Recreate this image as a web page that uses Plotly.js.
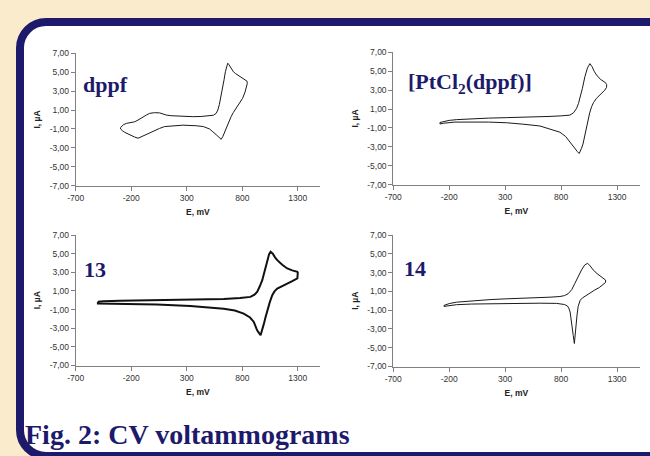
<!DOCTYPE html>
<html>
<head>
<meta charset="utf-8">
<script src="https://cdn.plot.ly/plotly-3.0.1.min.js"></script>
<style>
  html, body { margin: 0; padding: 0; width: 650px; height: 456px; overflow: hidden; background: #FBEBCD; }
  #frame { position: absolute; left: 15.5px; top: 18px; width: 700px; height: 426px; border: 8.5px solid #1E1A6B; border-radius: 30px; background: #ffffff; }
  #chart { position: absolute; left: 0; top: 0; width: 650px; height: 456px; }
</style>
</head>
<body>
<div id="frame"></div>
<div id="chart"></div>
<script>
// ---- Data (E in mV, I in µA) ----
const dppfE = [-296,-270,-243,-200,-168,-130,-94,-60,-34,10,56,90,116,160,206,280,355,430,505,540,565,580,594,610,624,636,648,660,669,680,699,720,740,759,790,815,834,843,
               845,840,825,803,770,744,720,699,684,669,654,639,625,610,598,583,565,535,505,450,385,265,146,100,56,10,-34,-75,-108,-138,-170,-198,-230,-258,-280,-296,-296];
const dppfI = [-0.85,-0.55,-0.41,-0.33,-0.24,0.0,0.29,0.5,0.65,0.72,0.70,0.55,0.47,0.40,0.37,0.32,0.30,0.32,0.37,0.45,0.65,1.0,1.6,2.5,3.3,4.2,5.05,5.7,5.95,5.8,5.4,5.05,4.85,4.7,4.45,4.28,4.17,4.05,
               3.8,3.5,2.9,2.24,1.7,1.18,0.75,0.29,-0.15,-0.59,-1.05,-1.46,-1.8,-2.1,-1.95,-1.75,-1.6,-1.3,-1.0,-0.75,-0.66,-0.6,-0.66,-0.75,-0.94,-1.2,-1.46,-1.68,-1.85,-1.98,-1.85,-1.72,-1.55,-1.36,-1.18,-1.0,-0.85];

const ptE = [-283,-250,-200,-134,14,150,313,458,610,700,800,878,910,938,955,968,990,1012,1035,1057,1075,1095,1116,1150,1175,1195,1206,
             1206,1190,1150,1116,1090,1072,1055,1042,1025,1012,995,982,968,961,945,923,900,878,840,789,700,610,458,313,150,14,-150,-250,-283,-283];
const ptI = [-0.42,-0.3,-0.2,-0.12,0.0,0.04,0.09,0.12,0.16,0.22,0.28,0.36,0.6,1.08,1.6,2.14,3.2,4.42,5.35,5.8,5.5,5.0,4.6,4.15,3.95,3.8,3.6,
             3.3,3.0,2.55,2.14,1.7,1.25,0.6,-0.16,-1.05,-1.92,-2.7,-3.15,-3.55,-3.7,-3.5,-3.15,-2.8,-2.4,-1.9,-1.45,-1.1,-0.79,-0.6,-0.45,-0.38,-0.35,-0.38,-0.5,-0.58,-0.42];

const c13E = [-500,-450,-300,31,332,633,780,874,910,934,958,980,1003,1025,1042,1055,1075,1095,1115,1160,1205,1250,1296,1300,
              1300,1296,1250,1205,1160,1115,1090,1070,1048,1025,1010,995,980,965,950,934,904,870,813,733,633,480,332,31,-300,-450,-500,-500];
const c13I = [-0.15,-0.1,-0.05,0.0,0.05,0.14,0.25,0.36,0.6,0.9,1.5,2.15,3.2,4.3,4.95,5.2,5.0,4.6,4.3,3.8,3.41,3.2,3.05,2.95,
              2.5,2.34,2.05,1.8,1.5,1.26,0.95,0.54,-0.2,-1.08,-1.8,-2.51,-3.2,-3.75,-3.5,-3.23,-2.33,-1.85,-1.43,-1.1,-0.9,-0.72,-0.61,-0.46,-0.42,-0.4,-0.35,-0.15];

const c14E = [-247,-200,-134,0,163,300,461,610,700,789,830,863,895,923,950,982,1010,1036,1060,1086,1120,1161,1190,1197,
              1197,1175,1140,1101,1060,1027,990,970,952,942,934,926,918,908,898,890,880,868,855,830,804,759,610,461,300,163,0,-134,-200,-247,-247];
const c14I = [-0.5,-0.3,-0.15,0.0,0.12,0.2,0.25,0.3,0.38,0.45,0.55,0.75,1.2,1.86,2.55,3.28,3.8,3.99,3.7,3.28,2.9,2.57,2.35,2.2,
              1.95,1.7,1.4,1.15,0.85,0.62,0.3,0.05,-0.6,-1.5,-2.6,-3.6,-4.55,-3.7,-2.8,-1.9,-1.2,-0.78,-0.55,-0.4,-0.33,-0.28,-0.26,-0.27,-0.28,-0.3,-0.35,-0.42,-0.5,-0.6,-0.5];

const xTickVals = [-700,-200,300,800,1300];
const xTickText = ['-700','-200','300','800','1300'];
const yTickVals = [-7,-5,-3,-1,1,3,5,7];
const yTickText = ['-7,00','-5,00','-3,00','-1,00','1,00','3,00','5,00','7,00'];
const panelLabels = ['dppf','[PtCl<sub>2</sub>(dppf)]','13','14'];
const xTitle = 'E, mV';
const yTitle = 'I, µA';
const caption = 'Fig. 2: CV voltammograms';

// ---- Layout helpers (pixel positions -> paper fractions) ----
const W = 650, H = 456;
const px = v => v / W;
const py = v => 1 - v / H;

const tickFont = {family: 'Liberation Sans, Arial, sans-serif', size: 8.5, color: '#333333'};
const titleFont = {family: 'Liberation Sans, Arial, sans-serif', size: 8.5, color: '#222222', weight: 'bold'};

function xAxis(anchor, x0, x1) {
  return {
    domain: [px(x0), px(x1)], anchor: anchor, range: [-700, 1500],
    tickmode: 'array', tickvals: xTickVals, ticktext: xTickText,
    ticks: 'outside', ticklen: 4, tickcolor: '#808080', tickwidth: 1,
    showline: true, linecolor: '#808080', linewidth: 1,
    showgrid: false, zeroline: false, tickfont: tickFont,
    title: {text: '<b>' + xTitle + '</b>', font: titleFont, standoff: 7},
    automargin: false, fixedrange: true
  };
}
function yAxis(anchor, y0, y1) {
  return {
    domain: [py(y1), py(y0)], anchor: anchor, range: [-7, 7],
    tickmode: 'array', tickvals: yTickVals, ticktext: yTickText,
    ticks: 'outside', ticklen: 4, tickcolor: '#808080', tickwidth: 1,
    showline: true, linecolor: '#808080', linewidth: 1,
    showgrid: false, zeroline: false, tickfont: tickFont,
    title: {text: '<b>' + yTitle + '</b>', font: titleFont, standoff: 7},
    automargin: false, fixedrange: true
  };
}

const lineStyle = {color: '#1a1a1a', width: 1};
const traces = [
  {x: dppfE, y: dppfI, xaxis: 'x', yaxis: 'y', mode: 'lines', line: lineStyle, hoverinfo: 'skip'},
  {x: ptE, y: ptI, xaxis: 'x2', yaxis: 'y2', mode: 'lines', line: lineStyle, hoverinfo: 'skip'},
  {x: c13E, y: c13I, xaxis: 'x3', yaxis: 'y3', mode: 'lines', line: {color: '#111111', width: 2}, hoverinfo: 'skip'},
  {x: c14E, y: c14I, xaxis: 'x4', yaxis: 'y4', mode: 'lines', line: lineStyle, hoverinfo: 'skip'}
];

const labelFont = {family: 'Liberation Serif, Times New Roman, serif', size: 22, color: '#1E1A6B', weight: 'bold'};
const labelPos = [[105, 84], [470, 83], [95, 269], [414.5, 268]];
const annotations = panelLabels.map((t, i) => ({
  text: '<b>' + t + '</b>', xref: 'paper', yref: 'paper',
  x: px(labelPos[i][0]), y: py(labelPos[i][1]), xanchor: 'center', yanchor: 'middle',
  showarrow: false, font: labelFont
}));
annotations.push({
  text: '<b>' + caption + '</b>', xref: 'paper', yref: 'paper',
  x: px(23), y: py(434), xanchor: 'left', yanchor: 'middle', showarrow: false,
  font: {family: 'Liberation Serif, Times New Roman, serif', size: 28, color: '#1E1A6B', weight: 'bold'}
});

const layout = {
  width: W, height: H,
  margin: {l: 0, r: 0, t: 0, b: 0},
  paper_bgcolor: 'rgba(0,0,0,0)', plot_bgcolor: 'rgba(0,0,0,0)',
  showlegend: false,
  xaxis: xAxis('y', 75.7, 320), yaxis: yAxis('x', 53.3, 185.7),
  xaxis2: xAxis('y2', 393.3, 639.5), yaxis2: yAxis('x2', 52.3, 184.7),
  xaxis3: xAxis('y3', 75.7, 320), yaxis3: yAxis('x3', 235, 365.5),
  xaxis4: xAxis('y4', 393.3, 639.5), yaxis4: yAxis('x4', 235, 366.5),
  annotations: annotations
};

Plotly.newPlot('chart', traces, layout, {staticPlot: true, displayModeBar: false});
</script>
</body>
</html>
